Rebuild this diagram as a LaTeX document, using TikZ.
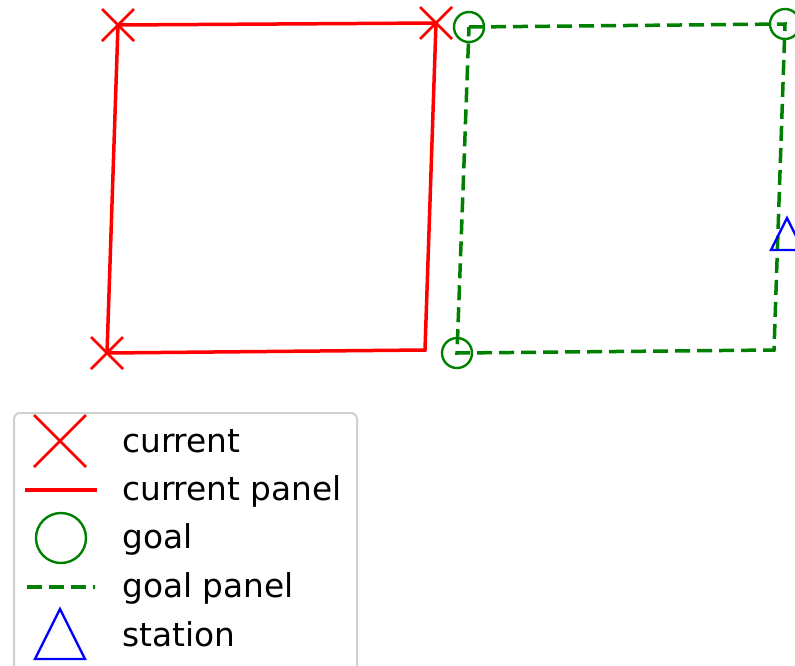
\documentclass[tikz,border=0pt]{standalone}
\usepackage{fontspec}
\setmainfont{DejaVu Sans}
\definecolor{mplred}{HTML}{FF0000}
\definecolor{mplgreen}{HTML}{008000}
\definecolor{mplblue}{HTML}{0000FF}
\definecolor{framegray}{HTML}{D0D0D0}
\tikzset{
  curpanel/.style={draw=mplred, line width=3.5pt, line join=miter},
  goalpanel/.style={draw=mplgreen, line width=3.5pt, dash pattern=on 15pt off 7pt},
  xmark/.style={draw=mplred, line width=2.6pt},
  omark/.style={draw=mplgreen, line width=2.4pt},
  tmark/.style={draw=mplblue, line width=2.4pt, line join=miter},
  legtext/.style={anchor=base west, inner sep=0pt, font=\fontsize{32.8}{40}\selectfont},
  pics/crossmark/.style={code={\draw[xmark] (-#1,-#1) -- (#1,#1) (-#1,#1) -- (#1,-#1);}},
  pics/ringmark/.style={code={\draw[omark] (0,0) circle (#1);}},
  pics/trimark/.style={code={\draw[tmark] (0,-#1) -- (#1,#1) -- (-#1,#1) -- cycle;}}
}
\begin{document}
\begin{tikzpicture}[x=1pt, y=-1pt]
\useasboundingbox (0,0) rectangle (795,665);
\begin{scope}
\clip (0,0) rectangle (795,665);

% corners of the current panel
\coordinate (c1) at (118,25);
\coordinate (c2) at (436,23);
\coordinate (c3) at (425,350);
\coordinate (c4) at (107,353);
% corners of the goal panel
\coordinate (g1) at (469,27);
\coordinate (g2) at (785,24);
\coordinate (g3) at (774,350);
\coordinate (g4) at (457,353);
% station
\coordinate (st) at (787,234);

\draw[curpanel] (c1) -- (c2) -- (c3) -- (c4) -- cycle;
\draw[goalpanel] (g1) -- (g2) -- (g3) -- (g4) -- cycle;

\pic at (c1) {crossmark=16};
\pic at (c2) {crossmark=16};
\pic at (c4) {crossmark=16};
\pic at (g1) {ringmark=15};
\pic at (g2) {ringmark=15};
\pic at (g4) {ringmark=15};
\pic at (st) {trimark=16};

% legend
\draw[framegray, line width=2pt, fill=white, fill opacity=0.8, rounded corners=6pt]
  (14,413) rectangle (357,690);

\coordinate (l1) at (60,441);
\coordinate (l2a) at (25,490);
\coordinate (l2b) at (97,490);
\coordinate (l3) at (61,538);
\coordinate (l4a) at (27,587);
\coordinate (l4b) at (97,587);
\coordinate (l5) at (60,634);

\pic at (l1) {crossmark=26};
\draw[draw=mplred, line width=3.5pt] (l2a) -- (l2b);
\pic at (l3) {ringmark=25};
\begin{scope}
\clip (20,570) rectangle (95,605);
\draw[goalpanel] (l4a) -- (l4b);
\end{scope}
\pic at (l5) {trimark=25};

\node[legtext] (t1) at (122,452) {current};
\node[legtext] (t2) at (122,500) {current panel};
\node[legtext] (t3) at (122,548) {goal};
\node[legtext] (t4) at (122,597) {goal panel};
\node[legtext] (t5) at (122,646) {station};
\end{scope}
\end{tikzpicture}
\end{document}
